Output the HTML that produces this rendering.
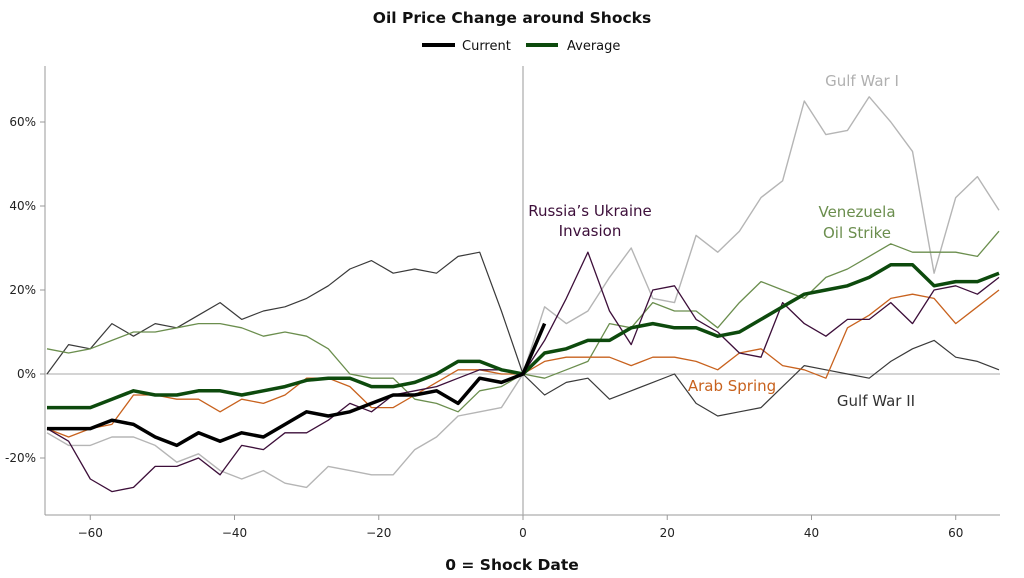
<!DOCTYPE html>
<html><head><meta charset="utf-8"><style>
body{margin:0;background:#fff;width:1024px;height:574px;overflow:hidden;font-family:"DejaVu Sans","Liberation Sans",sans-serif}
svg text{font-family:"DejaVu Sans","Liberation Sans",sans-serif}
</style></head><body>
<svg id="chart" width="1024" height="574" viewBox="0 0 1024 574" xmlns="http://www.w3.org/2000/svg">
<text x="512" y="23" text-anchor="middle" font-size="15.5" font-weight="bold" fill="#111">Oil Price Change around Shocks</text>
<g>
<line x1="422" y1="45" x2="455" y2="45" stroke="#000" stroke-width="4"/>
<text x="462" y="50" font-size="13" fill="#111">Current</text>
<line x1="526" y1="45" x2="558" y2="45" stroke="#0d4a0d" stroke-width="4"/>
<text x="567" y="50" font-size="13" fill="#111">Average</text>
</g>
<g id="axes"></g>
<g id="series"></g>
<text x="862" y="86" text-anchor="middle" font-size="15" fill="#b0b0b0">Gulf War I</text>
<text x="590" y="216" text-anchor="middle" font-size="15" fill="#3d0f3a">Russia’s Ukraine</text>
<text x="590" y="236" text-anchor="middle" font-size="15" fill="#3d0f3a">Invasion</text>
<text x="857" y="217" text-anchor="middle" font-size="15" fill="#6b8e4e">Venezuela</text>
<text x="857" y="238" text-anchor="middle" font-size="15" fill="#6b8e4e">Oil Strike</text>
<text x="732" y="391" text-anchor="middle" font-size="15" fill="#c8621e">Arab Spring</text>
<text x="876" y="406" text-anchor="middle" font-size="15" fill="#333">Gulf War II</text>
<text x="512" y="570" text-anchor="middle" font-size="15.5" font-weight="bold" fill="#111">0 = Shock Date</text>
</svg>
<script>
const days = [-66,-63,-60,-57,-54,-51,-48,-45,-42,-39,-36,-33,-30,-27,-24,-21,-18,-15,-12,-9,-6,-3,0,3,6,9,12,15,18,21,24,27,30,33,36,39,42,45,48,51,54,57,60,63,66];
const gulfWar1 = [-14,-17,-17,-15,-15,-17,-21,-19,-23,-25,-23,-26,-27,-22,-23,-24,-24,-18,-15,-10,-9,-8,0,16,12,15,23,30,18,17,33,29,34,42,46,65,57,58,66,60,53,24,42,47,39];
const gulfWar2 = [0,7,6,12,9,12,11,14,17,13,15,16,18,21,25,27,24,25,24,28,29,15,0,-5,-2,-1,-6,-4,-2,0,-7,-10,-9,-8,-3,2,1,0,-1,3,6,8,4,3,1];
const venezuela = [6,5,6,8,10,10,11,12,12,11,9,10,9,6,0,-1,-1,-6,-7,-9,-4,-3,0,-1,1,3,12,11,17,15,15,11,17,22,20,18,23,25,28,31,29,29,29,28,34];
const arabSpring = [-13,-15,-13,-12,-5,-5,-6,-6,-9,-6,-7,-5,-1,-1,-3,-8,-8,-5,-2,1,1,0,0,3,4,4,4,2,4,4,3,1,5,6,2,1,-1,11,14,18,19,18,12,16,20];
const russia = [-13,-16,-25,-28,-27,-22,-22,-20,-24,-17,-18,-14,-14,-11,-7,-9,-5,-4,-3,-1,1,1,0,8,18,29,15,7,20,21,13,10,5,4,17,12,9,13,13,17,12,20,21,19,23];
const currentDays = [-66,-63,-60,-57,-54,-51,-48,-45,-42,-39,-36,-33,-30,-27,-24,-21,-18,-15,-12,-9,-6,-3,0,3];
const current = [-13,-13,-13,-11,-12,-15,-17,-14,-16,-14,-15,-12,-9,-10,-9,-7,-5,-5,-4,-7,-1,-2,0,12];
const average = [-8,-8,-8,-6,-4,-5,-5,-4,-4,-5,-4,-3,-1.5,-1,-1,-3,-3,-2,0,3,3,1,0,5,6,8,8,11,12,11,11,9,10,13,16,19,20,21,23,26,26,21,22,22,24];
const xTicks = [-60,-40,-20,0,20,40,60];
const yTicks = [-20,0,20,40,60];

const NS = "http://www.w3.org/2000/svg";
const X0 = 47, X1 = 999, DMIN = -66, DMAX = 66;
const xs = d => X0 + (d - DMIN) / (DMAX - DMIN) * (X1 - X0);
const ys = v => 374 - v * 4.2;
function mk(tag, attrs, parent){const e=document.createElementNS(NS,tag);for(const k in attrs)e.setAttribute(k,attrs[k]);parent.appendChild(e);return e;}
const axes = document.getElementById('axes');
const ser = document.getElementById('series');

let a = mk('line',{x1:45,y1:66,x2:45,y2:515,stroke:'#999','stroke-width':1},axes);


a = mk('line',{x1:45,y1:515,x2:1000,y2:515,stroke:'#999','stroke-width':1},axes);


a = mk('line',{x1:45,y1:ys(0),x2:1000,y2:ys(0),stroke:'#bbb','stroke-width':1.2},axes);


a = mk('line',{x1:xs(0),y1:66,x2:xs(0),y2:515,stroke:'#aaa','stroke-width':1.2},axes);


yTicks.forEach(v=>{
  const t = mk('line',{x1:40,y1:ys(v),x2:45,y2:ys(v),stroke:'#999'},axes);
  
  
  const l = mk('text',{x:36,y:ys(v)+4,'text-anchor':'end','font-size':12,fill:'#222'},axes);
  l.textContent = v + '%';
  
  
});
xTicks.forEach(d=>{
  const t = mk('line',{x1:xs(d),y1:515,x2:xs(d),y2:520,stroke:'#999'},axes);
  
  
  const l = mk('text',{x:xs(d),y:537,'text-anchor':'middle','font-size':12,fill:'#222'},axes);
  l.textContent = d < 0 ? '\u2212' + Math.abs(d) : String(d);
  
  
});
function line(dx, vals, color, w, name){
  const p = dx.map((d,i)=>(i?'L':'M')+xs(d).toFixed(1)+','+ys(vals[i]).toFixed(1)).join('');
  const e = mk('path',{d:p,fill:'none',stroke:color,'stroke-width':w,'stroke-linejoin':'round'},ser);
  
  
}
line(days, gulfWar1, '#b5b5b5', 1.4, 'series-gulf-war-1');
line(days, gulfWar2, '#3a3a3a', 1.2, 'series-gulf-war-2');
line(days, venezuela, '#6b8e4e', 1.3, 'series-venezuela');
line(days, arabSpring, '#c8621e', 1.3, 'series-arab-spring');
line(days, russia, '#3d0f3a', 1.3, 'series-russia-ukraine');
line(days, average, '#0d4a0d', 3.5, 'series-average');
line(currentDays, current, '#000', 3.5, 'series-current');
</script>
</body></html>
